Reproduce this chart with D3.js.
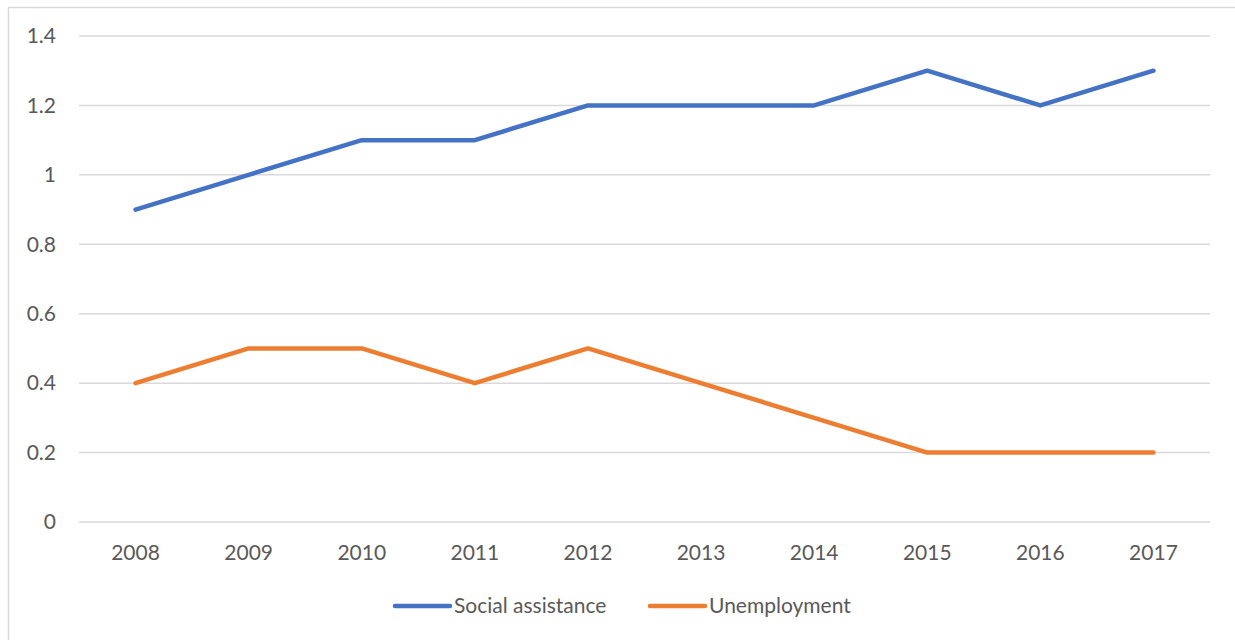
<!DOCTYPE html>
<html>
<head>
<meta charset="utf-8">
<script src="https://cdn.jsdelivr.net/npm/d3@7"></script>
<style>
  body { margin: 0; background: #fff; }
  svg { display: block; }
</style>
</head>
<body>
<div id="chart"></div>
<script>
// data
const years = ["2008", "2009", "2010", "2011", "2012", "2013", "2014", "2015", "2016", "2017"];
const socialAssistance = [0.9, 1.0, 1.1, 1.1, 1.2, 1.2, 1.2, 1.3, 1.2, 1.3];
const unemployment = [0.4, 0.5, 0.5, 0.4, 0.5, 0.4, 0.3, 0.2, 0.2, 0.2];
const yTicks = [0, 0.2, 0.4, 0.6, 0.8, 1, 1.2, 1.4];
const seriesNames = ["Social assistance", "Unemployment"];

const W = 1235, H = 640;
const plot = {left: 79, right: 1210, top: 36, bottom: 522};
const font = "Lato, 'Open Sans', sans-serif";
const fontSize = 21;
const textColor = "#595959";
const gridColor = "#d9d9d9";
const colors = ["#4472c4", "#ed7d31"];

const svg = d3.select("#chart")
    .append("svg")
        .attr("width", W)
        .attr("height", H);

// chart border (runs off the bottom and right of the picture)
svg.append("rect")
    .attr("x", 8.5)
    .attr("y", 7.5)
    .attr("width", W + 20)
    .attr("height", H + 20)
    .attr("fill", "#fff")
    .attr("stroke", gridColor)
    .attr("stroke-width", 1.5);

const x = d3.scaleBand()
    .domain(years)
    .range([plot.left, plot.right]);

const y = d3.scaleLinear()
    .domain([0, 1.4])
    .range([plot.bottom, plot.top]);

// gridlines
svg.append("g")
    .selectAll("line")
    .data(yTicks)
    .join("line")
        .attr("x1", plot.left)
        .attr("x2", plot.right)
        .attr("y1", d => y(d))
        .attr("y2", d => y(d))
        .attr("stroke", gridColor)
        .attr("stroke-width", 1.5);

// Y axis labels
const yAxis = svg.append("g")
    .attr("transform", "translate(" + plot.left + ",0)")
    .call(d3.axisLeft(y).tickValues(yTicks).tickSize(0).tickPadding(23).tickFormat(d3.format("")));
yAxis.select(".domain").remove();
yAxis.selectAll("text")
    .attr("font-family", font)
    .attr("font-size", fontSize)
    .attr("fill", textColor);

// X axis labels
const xAxis = svg.append("g")
    .attr("transform", "translate(0," + plot.bottom + ")")
    .call(d3.axisBottom(x).tickSize(0).tickPadding(23));
xAxis.select(".domain").remove();
xAxis.selectAll("text")
    .attr("font-family", font)
    .attr("font-size", fontSize)
    .attr("fill", textColor);

// lines
const line = d3.line()
    .x((d, i) => x(years[i]) + x.bandwidth() / 2)
    .y(d => y(d));

[socialAssistance, unemployment].forEach((values, k) => {
    svg.append("path")
        .datum(values)
        .attr("fill", "none")
        .attr("stroke", colors[k])
        .attr("stroke-width", 4.5)
        .attr("stroke-linecap", "round")
        .attr("stroke-linejoin", "round")
        .attr("d", line);
});

// legend
const legendX = [395, 650];
const legend = svg.append("g");
seriesNames.forEach((name, k) => {
    legend.append("line")
        .attr("x1", legendX[k])
        .attr("x2", legendX[k] + 55)
        .attr("y1", 606)
        .attr("y2", 606)
        .attr("stroke", colors[k])
        .attr("stroke-width", 4.5)
        .attr("stroke-linecap", "round");
    legend.append("text")
        .attr("x", legendX[k] + 59)
        .attr("y", 606)
        .attr("dy", "0.35em")
        .attr("font-family", font)
        .attr("font-size", fontSize)
        .attr("fill", textColor)
        .text(name);
});
</script>
</body>
</html>
